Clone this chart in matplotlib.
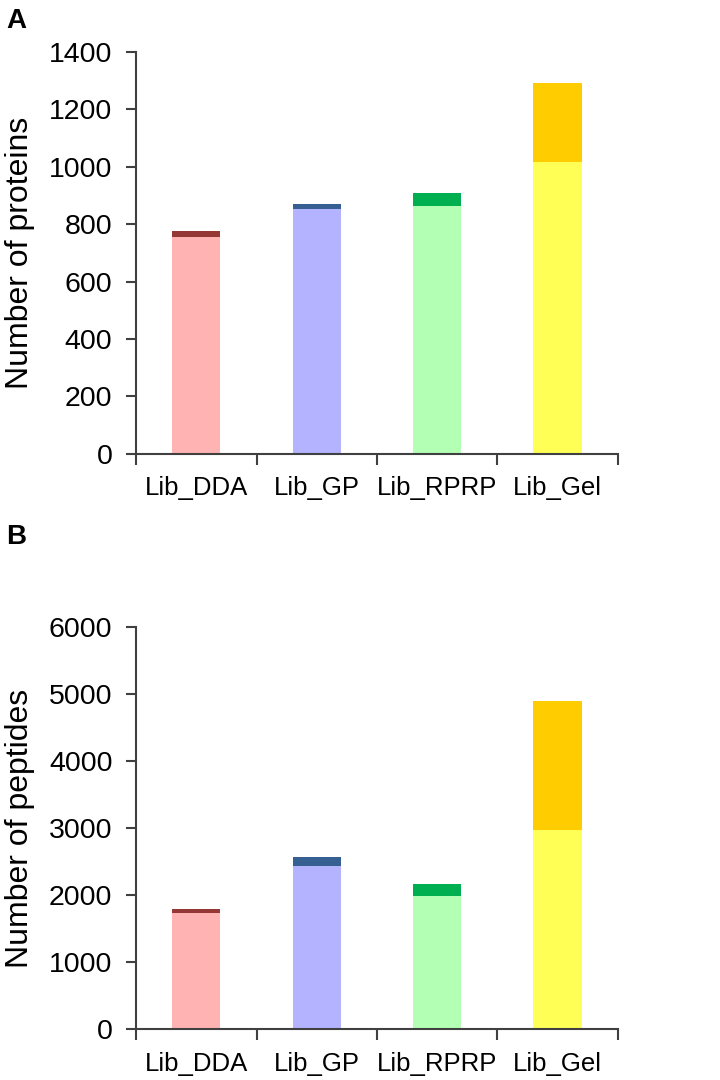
import matplotlib.pyplot as plt
import numpy as np

plt.rcParams['font.family'] = ['Liberation Sans', 'DejaVu Sans']

libraries = ['Lib_DDA', 'Lib_GP', 'Lib_RPRP', 'Lib_Gel']

# protein counts: base part and extra part on top
protein_base = [756, 852, 862, 1018]
protein_extra = [19, 20, 46, 274]

# peptide counts
peptide_base = [1732, 2445, 1997, 2978]
peptide_extra = [63, 134, 175, 1915]

base_colors = ['#FFB3B3', '#B3B3FF', '#B3FFB3', '#FFFF55']
top_colors = ['#953735', '#376092', '#00B050', '#FFCC00']

fig = plt.figure(figsize=(7.2, 10.8), dpi=100)
ax_a = fig.add_axes([0.189, 0.5797, 0.669, 0.3722])
ax_b = fig.add_axes([0.189, 0.0468, 0.669, 0.3724])

axis_col = '#404040'


def draw_panel(ax, base, extra, ymax, step, ylabel):
    x = np.arange(len(libraries))
    ax.bar(x, base, width=0.4, color=base_colors, linewidth=0)
    ax.bar(x, extra, width=0.4, bottom=base, color=top_colors, linewidth=0)
    ax.set_xlim(-0.5, len(libraries) - 0.5)
    ax.set_ylim(0, ymax)
    ax.set_yticks(np.arange(0, ymax + 1, step))
    ax.set_xticks(x)
    ax.set_xticklabels(libraries, fontsize=18.5)
    ax.set_xticks(np.arange(-0.5, len(libraries)), minor=True)
    ax.tick_params(axis='x', which='major', length=0, pad=16)
    ax.tick_params(axis='x', which='minor', length=8, width=1.5, color=axis_col, direction='out')
    ax.tick_params(axis='y', length=7, width=1.5, color=axis_col, labelsize=20.5, pad=10)
    for s in ['top', 'right']:
        ax.spines[s].set_visible(False)
    for s in ['left', 'bottom']:
        ax.spines[s].set_color(axis_col)
        ax.spines[s].set_linewidth(1.5)
    ax.set_ylabel(ylabel, fontsize=23)
    ax.yaxis.set_label_coords(-0.21, 0.5)


draw_panel(ax_a, protein_base, protein_extra, 1400, 200, 'Number of proteins')
draw_panel(ax_b, peptide_base, peptide_extra, 6000, 1000, 'Number of peptides')

fig.text(0.009, 0.993, 'A', fontsize=20, fontweight='bold', va='top')
fig.text(0.009, 0.515, 'B', fontsize=20, fontweight='bold', va='top')

fig.savefig('out.png', dpi=100)
